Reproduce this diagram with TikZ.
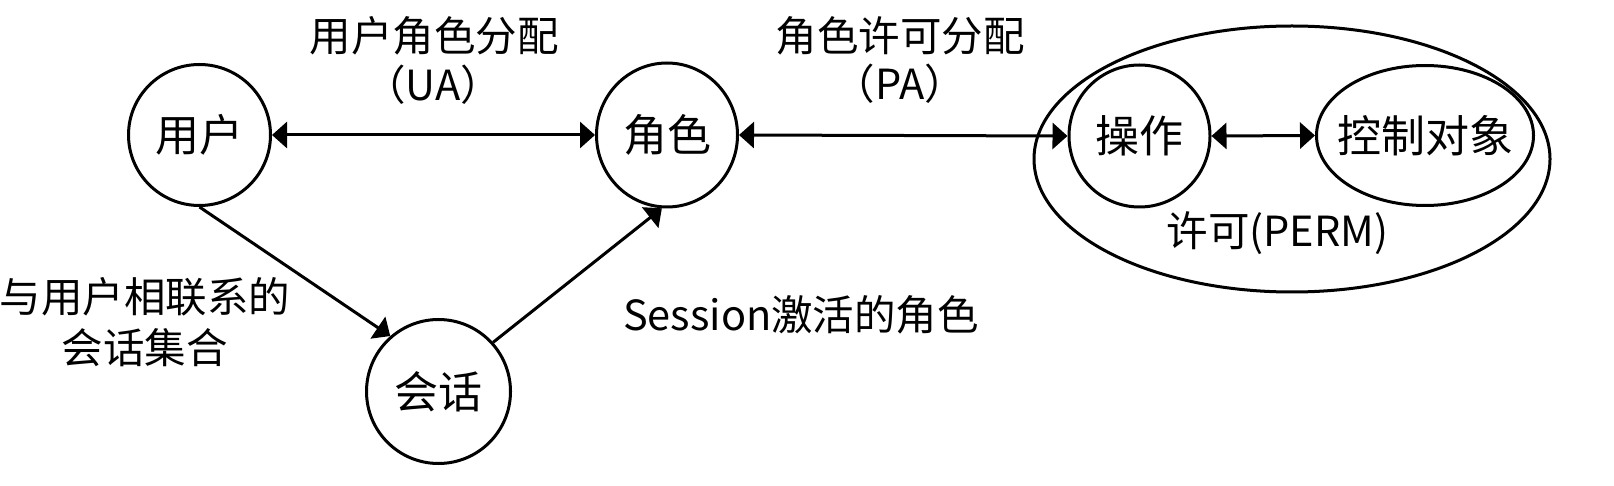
\documentclass[tikz,border=0pt]{standalone}
\usepackage{fontspec}
\setmainfont{Noto Sans CJK SC}
\usetikzlibrary{shapes.geometric,arrows.meta}
\tikzset{
  bubble/.style={draw, line width=3pt, ellipse, inner sep=0pt, font=\fontsize{44}{50}\selectfont},
  lbl/.style={font=\fontsize{41.5}{51}\selectfont, align=center, inner sep=0pt},
  tip/.tip={Triangle[length=15pt,width=26pt]},
  conn/.style={line width=3pt, -tip},
  dconn/.style={line width=3pt, tip-tip}
}
\begin{document}
\begin{tikzpicture}[x=1pt,y=-1pt]
\useasboundingbox (0,0) rectangle (1614,486);
\node[bubble, minimum width=142pt, minimum height=141pt] (user) at (199.5,135) {用户};
\node[bubble, minimum width=141pt, minimum height=144pt] (role) at (667,135) {角色};
\node[bubble, minimum width=144pt, minimum height=144pt] (sess) at (438.5,391.5) {会话};
\node[draw, line width=3pt, ellipse, minimum width=516pt, minimum height=266pt] (perm) at (1292,159) {};
\node[bubble, minimum width=141pt, minimum height=142pt] (op) at (1139.5,136) {操作};
\node[bubble, minimum width=217pt, minimum height=140pt] (obj) at (1425,135.5) {\makebox[0pt]{控制对象}};
\node[lbl] (lua) at (434,36) {用户角色分配};
\node[lbl] (lua2) at (433,85) {（UA）};
\node[lbl] (lpa) at (900,36) {角色许可分配};
\node[lbl] (lpa2) at (900,84) {（PA）};
\node[lbl] (lperm) at (1277.5,233) {许可(PERM)};
\node[lbl] (lset) at (145,322) {与用户相联系的\\会话集合};
\node[lbl] (lsess) at (801,315) {Session激活的角色};
\draw[dconn] (user.east) -- (role.west);
\draw[dconn] (role.east) -- (op.west);
\draw[dconn] (op.east) -- (obj.west);
\draw[conn] (user.south) -- (sess.131);
\draw[conn] (sess.42) -- (role.-94);
\end{tikzpicture}
\end{document}
